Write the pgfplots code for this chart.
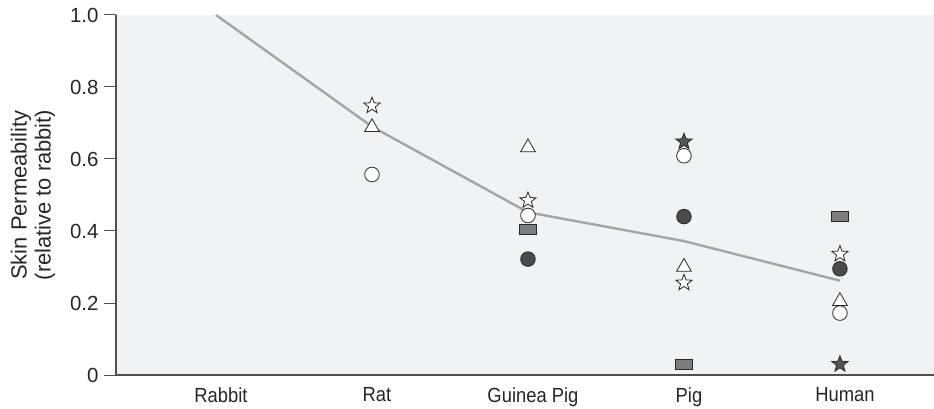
\documentclass[border=0pt]{standalone}
\usepackage{fontspec}
\setmainfont{Liberation Sans}
\newfontfamily\condfont[FakeStretch=0.9]{Liberation Sans}
\usepackage{pgfplots}
\pgfplotsset{compat=1.18}
\definecolor{bg}{RGB}{241,242,244}
\definecolor{linegray}{RGB}{165,165,165}
\definecolor{darkfill}{RGB}{75,75,75}
\definecolor{starfill}{RGB}{85,85,85}
\definecolor{sqfill}{RGB}{125,125,125}
\definecolor{outl}{RGB}{40,40,40}
\definecolor{axcol}{RGB}{80,80,80}
\pgfdeclareplotmark{pstar}{%
  \pgfpathmoveto{\pgfpoint{0pt}{\pgfplotmarksize}}%
  \pgfpathlineto{\pgfpoint{-0.247\pgfplotmarksize}{0.340\pgfplotmarksize}}%
  \pgfpathlineto{\pgfpoint{-0.951\pgfplotmarksize}{0.309\pgfplotmarksize}}%
  \pgfpathlineto{\pgfpoint{-0.399\pgfplotmarksize}{-0.130\pgfplotmarksize}}%
  \pgfpathlineto{\pgfpoint{-0.588\pgfplotmarksize}{-0.809\pgfplotmarksize}}%
  \pgfpathlineto{\pgfpoint{0pt}{-0.42\pgfplotmarksize}}%
  \pgfpathlineto{\pgfpoint{0.588\pgfplotmarksize}{-0.809\pgfplotmarksize}}%
  \pgfpathlineto{\pgfpoint{0.399\pgfplotmarksize}{-0.130\pgfplotmarksize}}%
  \pgfpathlineto{\pgfpoint{0.951\pgfplotmarksize}{0.309\pgfplotmarksize}}%
  \pgfpathlineto{\pgfpoint{0.247\pgfplotmarksize}{0.340\pgfplotmarksize}}%
  \pgfpathclose
  \pgfusepathqfillstroke
}
\pgfdeclareplotmark{rect}{%
  \pgfpathrectangle{\pgfpoint{-\pgfplotmarksize}{-0.58\pgfplotmarksize}}{\pgfpoint{2\pgfplotmarksize}{1.16\pgfplotmarksize}}%
  \pgfusepathqfillstroke
}
\begin{document}
\begin{tikzpicture}
\begin{axis}[
  width=818bp, height=360bp, scale only axis,
  xmin=-0.641, xmax=4.603, ymin=0, ymax=1,
  axis background/.style={fill=bg},
  axis x line=bottom, axis y line=left,
  axis line style={-, draw=axcol, line width=1.3bp},
  xtick={0,1,2,3,4},
  xticklabels={Rabbit,Rat,Guinea Pig,Pig,Human},
  xtick style={draw=none},
  ytick={0,0.2,0.4,0.6,0.8,1.0},
  yticklabels={0,0.2,0.4,0.6,0.8,1.0},
  ytick style={draw=axcol, line width=1bp},
  tick align=outside, major tick length=12bp,
  ticklabel style={font=\fontsize{20.5}{23}\selectfont, text=black!85},
  yticklabel style={xshift=-2bp},
  xticklabel style={font=\condfont\fontsize{20.5}{23}\selectfont, yshift=3bp, xshift=5bp},
  ylabel={Skin Permeability\\(relative to rabbit)},
  ylabel style={font=\fontsize{22}{24}\selectfont, align=center, at={(axis description cs:-0.1015,0.5)}, anchor=center, rotate=0, text=black!85},
  clip=true,
  every axis plot/.append style={line width=0.8bp},
]
\addplot[linegray, line width=2.4bp, no marks] coordinates {(0,1.0) (1,0.69) (2,0.452) (3,0.372) (4,0.262)};
% open star
\addplot[only marks, mark=pstar, mark size=8.5bp, draw=outl, fill=white] coordinates {(1,0.748) (2,0.485) (3,0.256) (4,0.336)};
% open triangle
\addplot[only marks, mark=triangle*, mark size=8.5bp, draw=outl, fill=white] coordinates {(1,0.688) (2,0.632) (3,0.300) (4,0.205)};
% open circle
\addplot[only marks, mark=*, mark size=7.3bp, draw=outl, fill=white] coordinates {(1,0.557) (2,0.443) (3,0.609) (4,0.172)};
% gray rectangle
\addplot[only marks, mark=rect, mark size=8.2bp, draw=outl, fill=sqfill] coordinates {(2,0.404) (3,0.03) (4,0.44)};
% filled circle
\addplot[only marks, mark=*, mark size=7.3bp, draw=outl, fill=darkfill] coordinates {(2,0.322) (3,0.44) (4,0.295)};
% filled star
\addplot[only marks, mark=pstar, mark size=8.5bp, draw=outl, fill=starfill] coordinates {(3,0.648) (4,0.03)};
\end{axis}
\pgfresetboundingbox
\path ([shift={(-116bp,-34bp)}]current axis.south west) rectangle ([shift={(0bp,15bp)}]current axis.north east);
\end{tikzpicture}
\end{document}
